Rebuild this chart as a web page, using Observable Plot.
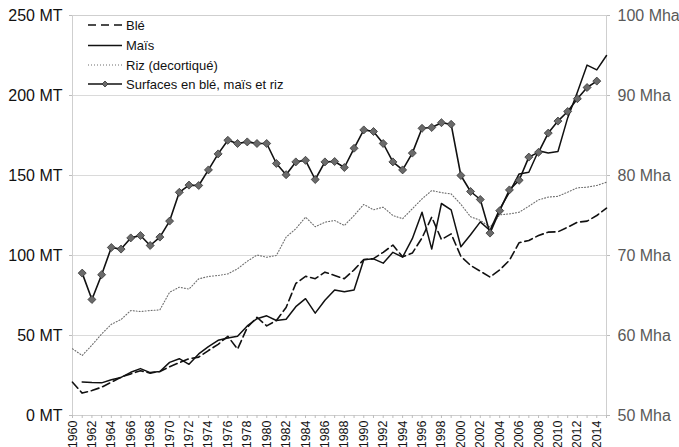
<!DOCTYPE html>
<html>
<head>
<meta charset="utf-8">
<script src="https://cdn.jsdelivr.net/npm/d3@7"></script>
<script src="https://cdn.jsdelivr.net/npm/@observablehq/plot@0.6"></script>
<style>
  html, body { margin: 0; padding: 0; background: #fff; }
  #wrap { position: relative; width: 679px; height: 447px; font-family: "Liberation Sans", Arial, sans-serif; }
  #legend { position: absolute; left: 0; top: 0; pointer-events: none; }
</style>
</head>
<body>
<div id="wrap"></div>
<script>
const years = [1960,1961,1962,1963,1964,1965,1966,1967,1968,1969,
  1970,1971,1972,1973,1974,1975,1976,1977,1978,1979,
  1980,1981,1982,1983,1984,1985,1986,1987,1988,1989,
  1990,1991,1992,1993,1994,1995,1996,1997,1998,1999,
  2000,2001,2002,2003,2004,2005,2006,2007,2008,2009,
  2010,2011,2012,2013,2014,2015];

// Production, millions de tonnes (MT)
const wheat = [20.8,14,15.6,17.7,20.8,24,26,28,26.5,27.5,
  30.5,33,35.5,36.5,40.6,44.5,49.5,41.5,55,61.4,
  56,59.4,67.5,82.5,87,85.5,89.6,87.5,85.5,91,
  97.5,98,102,106.5,99.2,101.5,111,124,110,113.5,
  99.5,93.8,90.2,86.5,91,97,108,109.4,112.5,114.6,
  114.8,117.7,120.8,121.5,125,129.6];

const maize = [null,21,20.6,20.4,22.3,23.8,27,29.3,26.8,27.5,
  33.2,35.5,32,38.5,43,47,48.5,49.5,56,60.5,
  62.3,59.4,60.2,68,73,64,72,78.5,77.3,78.5,
  97.3,97.9,95.2,102,99,110.5,127,104,132.5,128.5,
  105.5,113,121,115.6,129,139.5,151,152,165.5,164,
  165,186,202,219,216,225];

const rice = [41.7,37.5,44,51,57,60,65.6,65,65.6,66,
  77,80.2,79,85.4,86.9,87.5,88.5,91.7,96.4,100.3,
  98.9,100,111.5,116.7,124,118,120.8,121.9,118.75,125,
  131.9,128.6,130.2,125,123,129.2,135.4,140.6,139.3,138.5,
  132,124.2,122,117.7,125.4,126,127,130.8,134.8,136.5,
  137,139.6,142.3,142.7,143.75,145.8];

// Surfaces en blé, maïs et riz, millions d'hectares (Mha)
const area = [null,67.8,64.5,67.6,71.0,70.8,72.2,72.5,71.25,72.3,
  74.3,77.9,78.8,78.75,80.7,82.7,84.4,84.0,84.2,84.0,
  84.0,81.5,80.1,81.7,81.9,79.5,81.7,81.75,81.0,83.4,
  85.7,85.5,84.0,81.7,80.7,82.8,85.9,86.0,86.6,86.4,
  80.0,78.0,77.0,72.8,75.6,78.2,79.4,82.3,82.9,85.3,
  86.8,88.0,89.6,91.0,91.8,null];

const yTicksMT = [0,50,100,150,200,250];
const mhaTicks = [50,60,70,80,90,100];
const legendLabels = ["Blé","Maïs","Riz (decortiqué)","Surfaces en blé, maïs et riz"];

// Mha axis (50–100) aligned on MT axis (0–250)
const mhaToMT = v => (v - 50) * 5;

const data = years.map((year, i) => ({
  year, wheat: wheat[i], maize: maize[i], rice: rice[i],
  area: area[i] == null ? null : mhaToMT(area[i])
}));

const font = "'Liberation Sans', Arial, sans-serif";

const chart = Plot.plot({
  width: 679,
  height: 447,
  marginLeft: 72,
  marginRight: 73,
  marginTop: 15,
  marginBottom: 32,
  style: { fontFamily: font, background: "#fff", overflow: "visible" },
  x: { domain: [1960, 2015] },
  y: { domain: [0, 250] },
  marks: [
    Plot.gridY(yTicksMT, { stroke: "#dadada", strokeOpacity: 1 }),
    Plot.frame({ stroke: "#cfcfcf" }),
    Plot.axisY({
      ticks: yTicksMT, tickFormat: d => `${d} MT`, tickSize: 3, tickPadding: 7,
      fontSize: 16, stroke: "#bdbdbd", fill: "#111", label: null
    }),
    Plot.axisY({
      anchor: "right", ticks: mhaTicks.map(mhaToMT), tickFormat: d => `${50 + d / 5} Mha`,
      tickSize: 3, tickPadding: 8, fontSize: 16, stroke: "#bdbdbd", fill: "#595959", label: null
    }),
    Plot.axisX({
      ticks: years, tickFormat: d => (d % 2 === 0 ? String(d) : ""), tickRotate: -90,
      tickSize: 3, tickPadding: 2, fontSize: 12.5, stroke: "#bdbdbd", fill: "#111", label: null
    }),
    Plot.line(data, { x: "year", y: "rice", stroke: "#6e6e6e", strokeWidth: 1.1, strokeDasharray: "1,2" }),
    Plot.line(data, { x: "year", y: "wheat", stroke: "#111", strokeWidth: 1.6, strokeDasharray: "8,4" }),
    Plot.line(data, { x: "year", y: "maize", stroke: "#111", strokeWidth: 1.5 }),
    Plot.line(data, { x: "year", y: "area", stroke: "#111", strokeWidth: 1.6 }),
    Plot.dot(data.filter(d => d.area != null), {
      x: "year", y: "area", symbol: "diamond2", r: 3.6,
      fill: "#6a6a6a", stroke: "#333", strokeWidth: 0.8
    })
  ]
});

const wrap = document.getElementById("wrap");
wrap.appendChild(chart);

// Legend overlay (top-left inside plot area)
const ns = "http://www.w3.org/2000/svg";
const leg = document.createElementNS(ns, "svg");
leg.setAttribute("id", "legend");
leg.setAttribute("width", "320");
leg.setAttribute("height", "100");
const rowY = [25, 45.5, 65, 84];
const styles = [
  { stroke: "#111", width: 1.6, dash: "8,5", marker: false },
  { stroke: "#111", width: 1.5, dash: null, marker: false },
  { stroke: "#6e6e6e", width: 1.1, dash: "1,2", marker: false },
  { stroke: "#111", width: 1.6, dash: null, marker: true }
];
legendLabels.forEach((lab, i) => {
  const s = styles[i];
  const ln = document.createElementNS(ns, "line");
  ln.setAttribute("x1", 88); ln.setAttribute("x2", 122);
  ln.setAttribute("y1", rowY[i]); ln.setAttribute("y2", rowY[i]);
  ln.setAttribute("stroke", s.stroke); ln.setAttribute("stroke-width", s.width);
  if (s.dash) ln.setAttribute("stroke-dasharray", s.dash);
  leg.appendChild(ln);
  if (s.marker) {
    const m = document.createElementNS(ns, "path");
    const cx = 105, cy = rowY[i], r = 3;
    m.setAttribute("d", `M${cx},${cy - r}L${cx + r},${cy}L${cx},${cy + r}L${cx - r},${cy}Z`);
    m.setAttribute("fill", "#6a6a6a"); m.setAttribute("stroke", "#333"); m.setAttribute("stroke-width", 0.8);
    leg.appendChild(m);
  }
  const t = document.createElementNS(ns, "text");
  t.setAttribute("x", 126); t.setAttribute("y", rowY[i]);
  t.setAttribute("dy", "0.35em");
  t.setAttribute("font-size", "13");
  t.setAttribute("font-family", font);
  t.setAttribute("fill", "#111");
  t.textContent = lab;
  leg.appendChild(t);
});
wrap.appendChild(leg);
</script>
</body>
</html>
